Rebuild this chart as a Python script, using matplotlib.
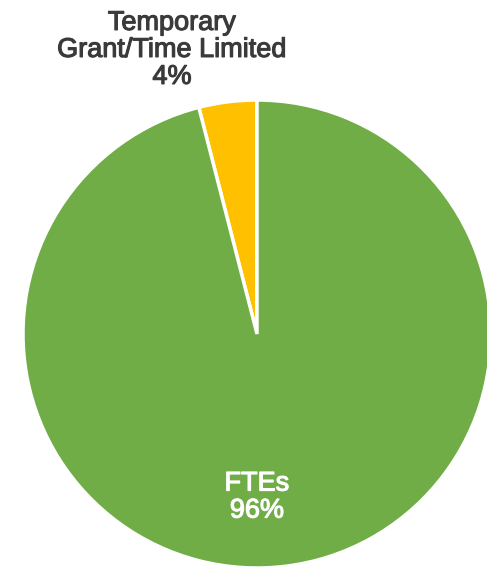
import matplotlib.pyplot as plt
import matplotlib.patheffects as pe

# Datos del gráfico
categorias = ["Temporary\nGrant/Time Limited", "FTEs"]
porcentajes = [4, 96]
colores = ["#FFC000", "#70AD47"]
colores_texto = ["#3A3A3A", "white"]
posiciones_texto = [(-0.363, 1.214), (0.0, -0.697)]

fig = plt.figure(figsize=(4.87, 5.69), dpi=100)
ax = fig.add_axes([0, 0, 1, 1])

# Pastel empezando arriba, el segmento pequeño hacia la izquierda
ax.pie(porcentajes, colors=colores, startangle=90, counterclock=True,
       radius=1, wedgeprops=dict(edgecolor="white", linewidth=2.5))

for cat, pct, col, (x, y) in zip(categorias, porcentajes, colores_texto, posiciones_texto):
    ax.text(x, y, f"{cat}\n{pct}%", ha="center", va="center", color=col,
            fontsize=19.5, family="Liberation Sans", linespacing=1.05,
            path_effects=[pe.withStroke(linewidth=0.8, foreground=col)])

ax.set_aspect("auto")
ax.set_xlim(-257 / 234, (487 - 257) / 234)
ax.set_ylim((334 - 569) / 234, 334 / 234)
ax.axis("off")

fig.savefig("out.png", dpi=100)
